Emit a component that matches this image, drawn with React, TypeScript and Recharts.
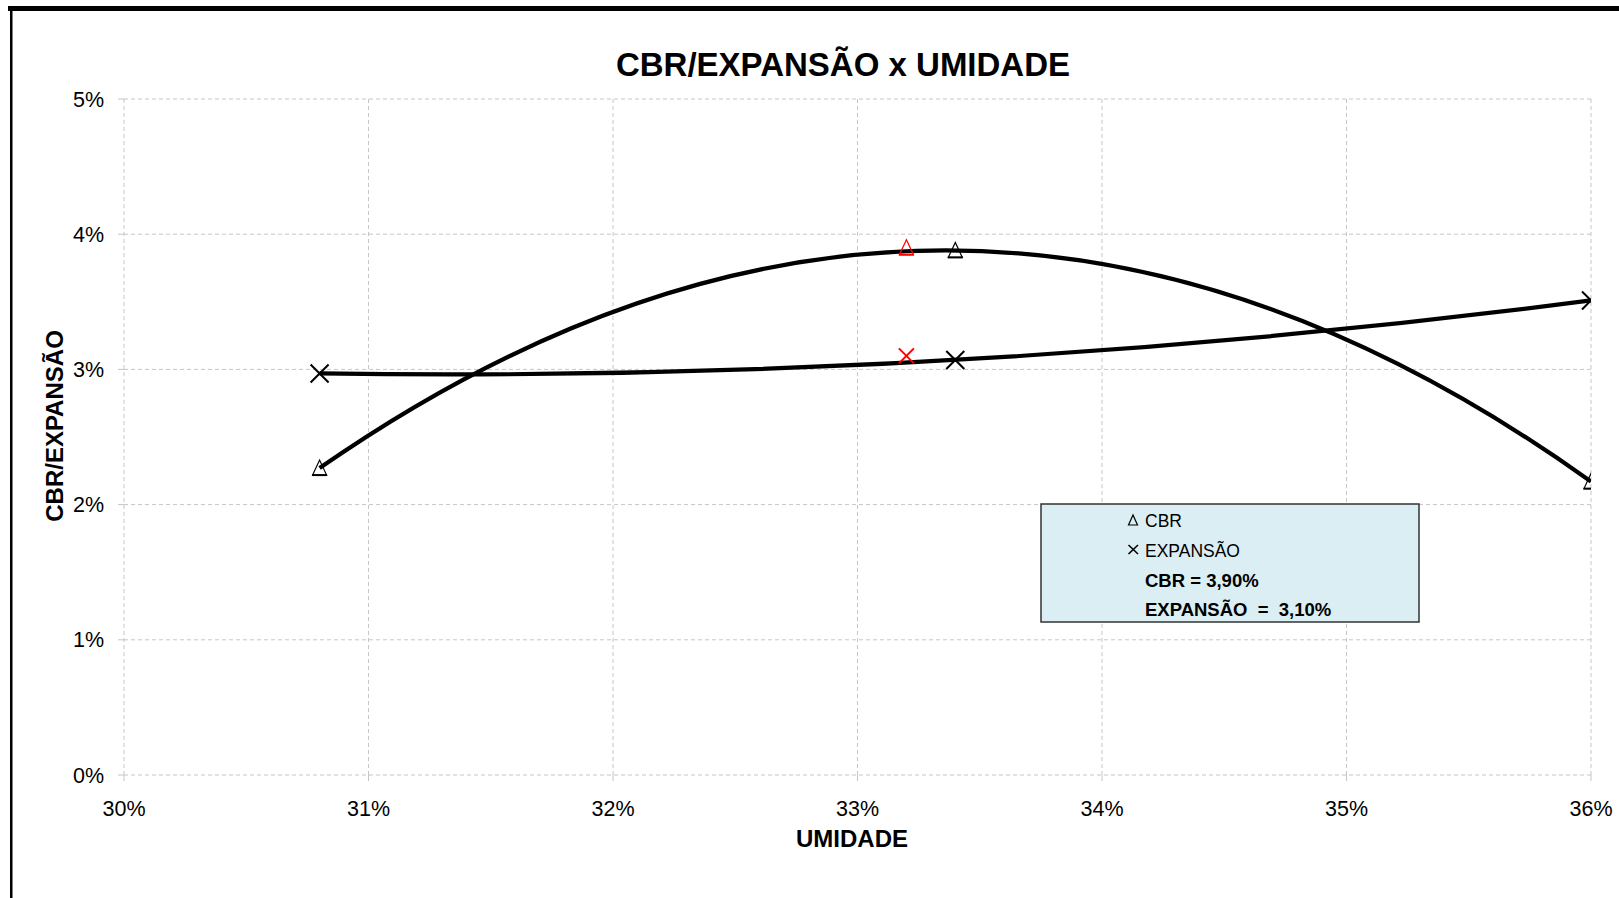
import { ComposedChart, Line, Scatter, XAxis, YAxis, CartesianGrid } from 'recharts';

// UMIDADE (%) on x, CBR / EXPANSÃO (%) on y
const umidadeTicks = [30, 31, 32, 33, 34, 35, 36];
const percentTicks = [0, 1, 2, 3, 4, 5];

const cbrPoints = [
  { x: 30.8, y: 2.27 },
  { x: 33.4, y: 3.88 },
  { x: 36.0, y: 2.17 },
];
const expansaoPoints = [
  { x: 30.8, y: 2.97 },
  { x: 33.4, y: 3.07 },
  { x: 36.0, y: 3.51 },
];
// result markers (red)
const cbrResult = [{ x: 33.2, y: 3.9 }];
const expansaoResult = [{ x: 33.2, y: 3.1 }];

const title = 'CBR/EXPANSÃO x UMIDADE';
const xLabel = 'UMIDADE';
const yLabel = 'CBR/EXPANSÃO';
const legendNames = ['CBR', 'EXPANSÃO'];
const resultTexts = ['CBR = 3,90%', 'EXPANSÃO  =  3,10%'];

const GRID = '#c6c6c6';

// order-2 polynomial trendline through the points (like the spreadsheet trendline)
function polyTrend(context: any) {
  let pts: number[][] = [];
  return {
    areaStart() {},
    areaEnd() {},
    lineStart() {
      pts = [];
    },
    point(x: number, y: number) {
      pts.push([+x, +y]);
    },
    lineEnd() {
      if (!pts.length) return;
      const [p0, p1, p2] = pts;
      context.moveTo(p0[0], p0[1]);
      if (pts.length !== 3) {
        pts.slice(1).forEach((p) => context.lineTo(p[0], p[1]));
        return;
      }
      const d0 =
        (p0[1] * (2 * p0[0] - p1[0] - p2[0])) / ((p0[0] - p1[0]) * (p0[0] - p2[0])) +
        (p1[1] * (p0[0] - p2[0])) / ((p1[0] - p0[0]) * (p1[0] - p2[0])) +
        (p2[1] * (p0[0] - p1[0])) / ((p2[0] - p0[0]) * (p2[0] - p1[0]));
      const cx = (p0[0] + p2[0]) / 2;
      context.quadraticCurveTo(cx, p0[1] + d0 * (cx - p0[0]), p2[0], p2[1]);
    },
  };
}

const triangle = (color: string) => (props: any) => {
  const { cx, cy } = props;
  return (
    <g>
      <polygon
        points={`${cx},${cy - 8} ${cx - 7},${cy + 7} ${cx + 7},${cy + 7}`}
        fill="none"
        stroke={color}
        strokeWidth={1.2}
      />
      <line x1={cx - 7.5} y1={cy + 7} x2={cx + 7.5} y2={cy + 7} stroke={color} strokeWidth={2} />
    </g>
  );
};

const cross = (color: string, r: number) => (props: any) => {
  const { cx, cy } = props;
  return (
    <g stroke={color} strokeWidth={2}>
      <line x1={cx - r} y1={cy - r} x2={cx + r} y2={cy + r} />
      <line x1={cx - r} y1={cy + r} x2={cx + r} y2={cy - r} />
    </g>
  );
};

export default function App() {
  const font = "'Liberation Sans', Arial, sans-serif";
  return (
    <div
      style={{
        position: 'absolute',
        left: 0,
        top: 0,
        width: 1619,
        height: 898,
        background: '#fff',
        fontFamily: font,
        overflow: 'hidden',
      }}
    >
      <ComposedChart width={1619} height={898} margin={{ top: 99, right: 28, bottom: 83, left: 64 }}>
        <CartesianGrid stroke={GRID} strokeDasharray="4 3" />
        <XAxis
          type="number"
          dataKey="x"
          domain={[30, 36]}
          ticks={umidadeTicks}
          allowDataOverflow
          axisLine={false}
          tickLine={{ stroke: GRID }}
          tickSize={6}
          tickMargin={20}
          height={40}
          tick={{ fill: '#000', fontSize: 21.5 }}
          tickFormatter={(v) => `${v}%`}
        />
        <YAxis
          type="number"
          dataKey="y"
          domain={[0, 5]}
          ticks={percentTicks}
          allowDataOverflow
          axisLine={false}
          tickLine={{ stroke: GRID }}
          tickSize={6}
          tickMargin={14}
          width={60}
          tick={{ fill: '#000', fontSize: 21.5 }}
          tickFormatter={(v) => `${v}%`}
        />
        <Line
          data={cbrPoints}
          dataKey="y"
          type={polyTrend as any}
          stroke="#000"
          strokeWidth={4.2}
          dot={false}
          activeDot={false}
          isAnimationActive={false}
        />
        <Line
          data={expansaoPoints}
          dataKey="y"
          type={polyTrend as any}
          stroke="#000"
          strokeWidth={4.2}
          dot={false}
          activeDot={false}
          isAnimationActive={false}
        />
        <Scatter data={cbrPoints} shape={triangle('#000')} isAnimationActive={false} />
        <Scatter data={expansaoPoints} shape={cross('#000', 9)} isAnimationActive={false} />
        <Scatter data={cbrResult} shape={triangle('#ff0000')} isAnimationActive={false} />
        <Scatter data={expansaoResult} shape={cross('#ff0000', 7.5)} isAnimationActive={false} />
      </ComposedChart>

      <svg
        width={1619}
        height={898}
        style={{ position: 'absolute', left: 0, top: 0, pointerEvents: 'none' }}
      >
        <rect x={8} y={6} width={1611} height={5} fill="#000" />
        <rect x={10} y={6} width={2.5} height={892} fill="#000" />

        <text x={843} y={76} textAnchor="middle" fontSize={33} fontWeight="bold" fill="#000">
          {title}
        </text>
        <text x={852} y={847} textAnchor="middle" fontSize={24} fontWeight="bold" fill="#000">
          {xLabel}
        </text>
        <text
          x={63}
          y={426}
          textAnchor="middle"
          fontSize={24}
          fontWeight="bold"
          fill="#000"
          transform="rotate(-90 63 426)"
        >
          {yLabel}
        </text>

        <rect x={1041} y={504} width={378} height={118} fill="#dbeef3" stroke="#333" strokeWidth={1.5} />
        <polygon points="1133,515 1128.5,525 1137.5,525" fill="none" stroke="#000" strokeWidth={1.2} />
        <g stroke="#000" strokeWidth={1.6}>
          <line x1={1128.5} y1={545} x2={1138} y2={554} />
          <line x1={1128.5} y1={554} x2={1138} y2={545} />
        </g>
        <text x={1145} y={527} fontSize={17.5} fill="#000">
          {legendNames[0]}
        </text>
        <text x={1145} y={557} fontSize={17.5} fill="#000">
          {legendNames[1]}
        </text>
        <text x={1145} y={587} fontSize={18.5} fontWeight="bold" fill="#000" style={{ whiteSpace: 'pre' }}>
          {resultTexts[0]}
        </text>
        <text x={1145} y={615.5} fontSize={18.5} fontWeight="bold" fill="#000" style={{ whiteSpace: 'pre' }}>
          {resultTexts[1]}
        </text>
      </svg>
    </div>
  );
}
